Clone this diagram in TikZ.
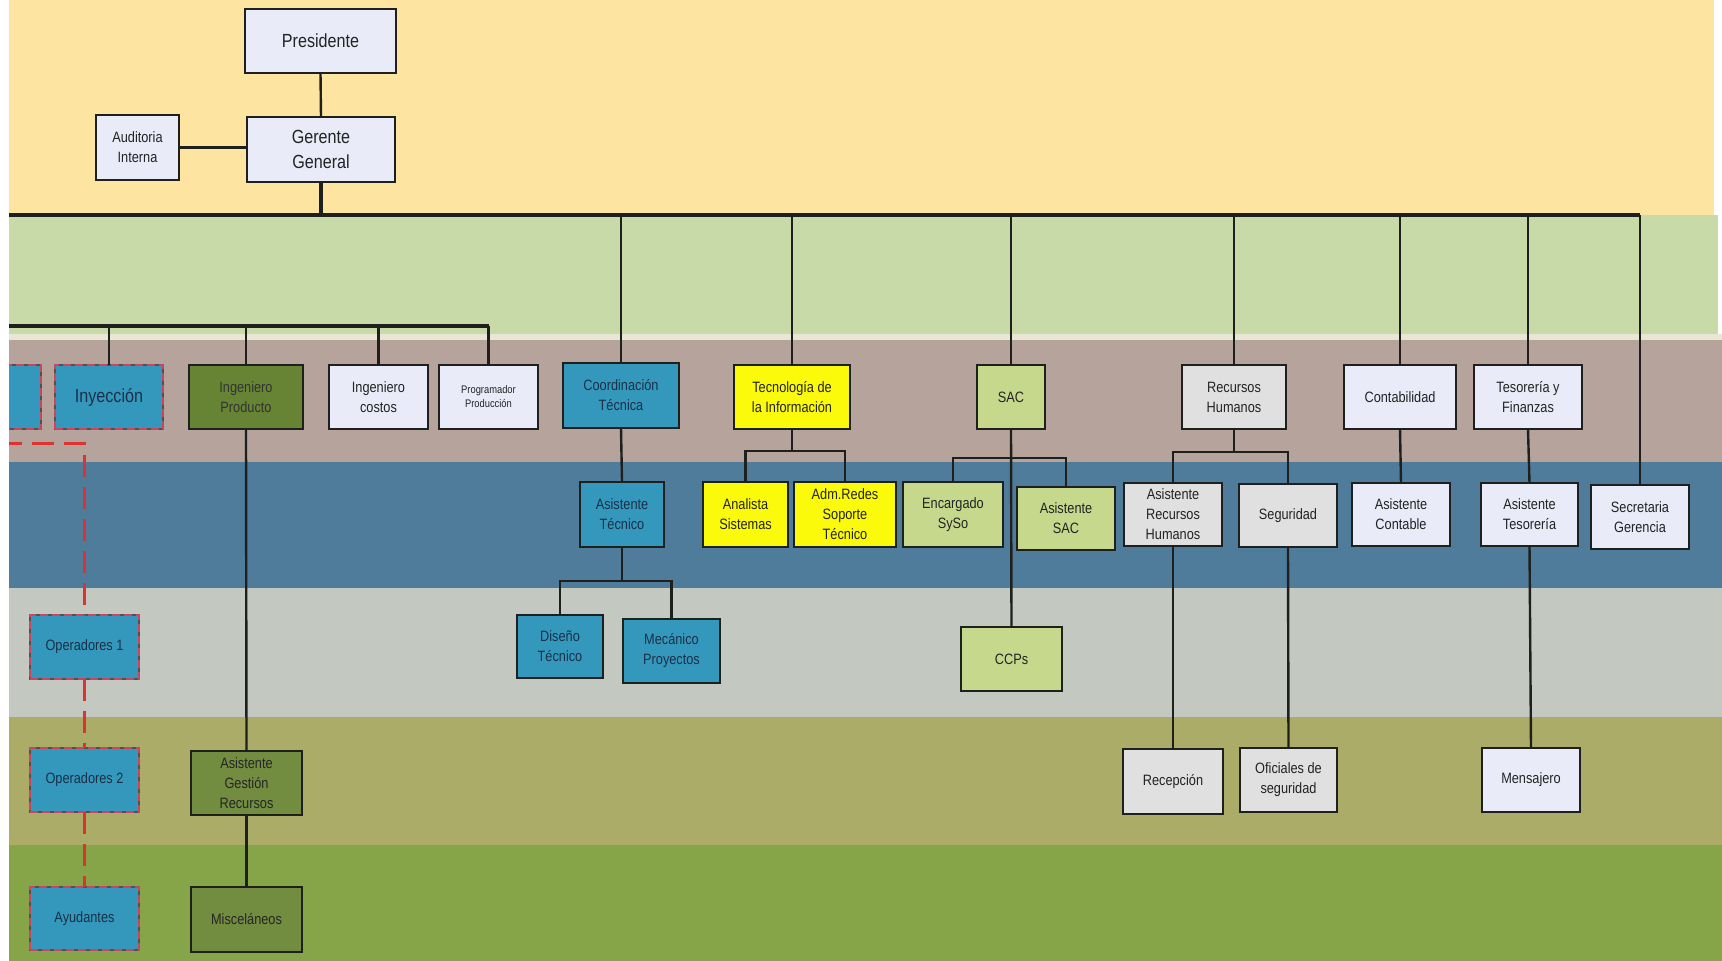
\documentclass[tikz,border=0pt]{standalone}
\usepackage{fontspec}
\setmainfont{Liberation Sans}[FakeStretch=0.85]
\definecolor{byel}{RGB}{253,228,160}
\definecolor{bgrn}{RGB}{200,218,168}
\definecolor{bstr}{RGB}{232,230,212}
\definecolor{bmau}{RGB}{182,163,156}
\definecolor{bblu}{RGB}{80,124,156}
\definecolor{bgry}{RGB}{195,200,192}
\definecolor{boli}{RGB}{170,172,104}
\definecolor{bgrnd}{RGB}{134,165,72}
\definecolor{cwhite}{RGB}{233,236,248}
\definecolor{cteal}{RGB}{52,152,188}
\definecolor{colvd}{RGB}{102,132,52}
\definecolor{colv}{RGB}{114,140,64}
\definecolor{cyel}{RGB}{250,250,10}
\definecolor{cgrn}{RGB}{198,216,140}
\definecolor{cgry}{RGB}{224,224,224}
\definecolor{bline}{RGB}{30,32,30}
\definecolor{tx}{RGB}{35,35,35}
\definecolor{txb}{RGB}{25,48,72}
\definecolor{dred}{RGB}{200,70,95}
\definecolor{dgray}{RGB}{80,80,85}
\definecolor{rd}{RGB}{220,50,50}
\newcommand{\bfs}{\fontsize{15}{20}\selectfont}
\newcommand{\bigfs}{\fontsize{19}{25}\selectfont}
\newcommand{\tinyfs}{\fontsize{11}{14}\selectfont}
\begin{document}
\begin{tikzpicture}[x=1pt,y=-1pt,
  box/.style={draw=bline, line width=2.2pt, inner sep=1pt, outer sep=0pt, align=center, font=\bfs, text=tx},
  wh/.style 2 args={minimum width=#1pt, minimum height=#2pt},
  wbox/.style={box, fill=cwhite},
  tbox/.style={box, fill=cteal, text=txb},
  obox/.style={box, fill=colv, text=black!85},
  ybox/.style={box, fill=cyel},
  gbox/.style={box, fill=cgrn},
  rbox/.style={box, fill=cgry},
  dbox/.style={box, draw=dred, dash pattern=on 8pt off 4pt, text=txb,
     preaction={fill=cteal, draw=dgray, solid, line width=2.2pt}},
  conn/.style={draw=bline, line width=2.4pt},
  trunk/.style={draw=bline, line width=4pt},
  rdash/.style={draw=rd, line width=3pt, dash pattern=on 22pt off 10pt}]
\useasboundingbox (0,0) rectangle (1722,961);
\fill[white] (0,0) rectangle (1722,961);
% bands
\fill[byel] (9,0) rectangle (1714,215);
\fill[bgrn] (9,215) rectangle (1718,334);
\fill[bstr] (9,334) rectangle (1722,340);
\fill[bmau] (9,340) rectangle (1722,462);
\fill[bblu] (9,462) rectangle (1722,588);
\fill[bgry] (9,588) rectangle (1722,717);
\fill[boli] (9,717) rectangle (1722,845);
\fill[bgrnd] (9,845) rectangle (1722,961);
% top
\node[wbox, wh={151}{64}, font=\bigfs] (pres) at (320.5,41) {Presidente};
\node[wbox, wh={148}{65}, font=\bigfs] (ger) at (321,149.5) {Gerente\\General};
\node[wbox, wh={83}{65}] (aud) at (137.5,147.5) {Auditoria\\Interna};
% row 1
\node[dbox, wh={51}{64}] (lpart) at (15.5,397) {};
\node[dbox, wh={108}{64}, font=\bigfs] (iny) at (109,397) {Inyección};
\node[box, fill=colvd, text=black!80, wh={114}{64}] (ip) at (246,397) {Ingeniero\\Producto};
\node[wbox, wh={99}{64}] (ic) at (378.5,397) {Ingeniero\\costos};
\node[wbox, wh={99}{64}, font=\tinyfs] (pp) at (488.5,397) {Programador\\Producción};
\node[tbox, wh={116}{65}] (ct) at (621,395.5) {Coordinación\\Técnica};
\node[ybox, wh={116}{64}] (ti) at (792,397) {Tecnología de\\la Información};
\node[gbox, wh={68}{64}] (sac) at (1011,397) {SAC};
\node[rbox, wh={104}{64}] (rh) at (1234,397) {Recursos\\Humanos};
\node[wbox, wh={112}{64}] (cont) at (1400,397) {Contabilidad};
\node[wbox, wh={108}{64}] (tes) at (1528,397) {Tesorería y\\Finanzas};
% row 2
\node[tbox, wh={84}{65}] (at) at (622,514.5) {Asistente\\Técnico};
\node[ybox, wh={85}{65}] (an) at (745.5,514.5) {Analista\\Sistemas};
\node[ybox, wh={102}{65}] (ar) at (845,514.5) {Adm.Redes\\Soporte\\Técnico};
\node[gbox, wh={100}{65}] (enc) at (953,514.5) {Encargado\\SySo};
\node[gbox, wh={98}{63}] (asac) at (1066,518.5) {Asistente\\SAC};
\node[rbox, wh={98}{63}] (arh) at (1173,514.5) {Asistente\\Recursos\\Humanos};
\node[rbox, wh={98}{63}] (seg) at (1288,515.5) {Seguridad};
\node[wbox, wh={98}{63}] (acont) at (1401,514.5) {Asistente\\Contable};
\node[wbox, wh={97}{63}] (ates) at (1529.5,514.5) {Asistente\\Tesorería};
\node[wbox, wh={98}{64}] (sec) at (1640,517) {Secretaria\\Gerencia};
% row 3
\node[tbox, wh={86}{63}] (dt) at (560,646.5) {Diseño\\Técnico};
\node[tbox, wh={97}{64}] (mp) at (671.5,651) {Mecánico\\Proyectos};
\node[gbox, wh={101}{64}] (ccp) at (1011.5,659) {CCPs};
\node[dbox, wh={109}{64}] (op1) at (84.5,647) {Operadores 1};
% row 4
\node[dbox, wh={109}{64}] (op2) at (84.5,780) {Operadores 2};
\node[obox, wh={111}{64}] (agr) at (246.5,783) {Asistente\\Gestión\\Recursos};
\node[rbox, wh={100}{65}] (rec) at (1173,781.5) {Recepción};
\node[rbox, wh={97}{64}] (ofi) at (1288.5,780) {Oficiales de\\seguridad};
\node[wbox, wh={98}{64}] (mens) at (1531,780) {Mensajero};
% row 5
\node[dbox, wh={109}{63}] (aya) at (84.5,918.5) {Ayudantes};
\node[obox, wh={111}{65}] (misc) at (246.5,919.5) {Misceláneos};
% junction coordinates
\coordinate (tL) at (0,215);
\coordinate (tR) at (1640,215);
\coordinate (sL) at (0,326);
\coordinate (jTI) at (792,451);
\coordinate (jSAC) at (1011,458);
\coordinate (jRH) at (1234,452);
\coordinate (jAT) at (622,581);
\coordinate (rL) at (0,443);
% connectors
\draw[conn] (pres.south) -- (ger.north);
\draw[conn] (aud.east) -- (aud.east -| ger.west);
\draw[trunk] (ger.south) -- (ger.south |- tL);
\draw[trunk] (tL) -- (tR);
\draw[conn] (ct.north |- tL) -- (ct.north);
\draw[conn] (ti.north |- tL) -- (ti.north);
\draw[conn] (sac.north |- tL) -- (sac.north);
\draw[conn] (rh.north |- tL) -- (rh.north);
\draw[conn] (cont.north |- tL) -- (cont.north);
\draw[conn] (tes.north |- tL) -- (tes.north);
\draw[conn] (tR) -- (sec.north);
\draw[trunk] (sL) -- (pp.north |- sL);
\draw[conn] (iny.north |- sL) -- (iny.north);
\draw[conn] (ip.north |- sL) -- (ip.north);
\draw[conn] (ic.north |- sL) -- (ic.north);
\draw[conn] (pp.north |- sL) -- (pp.north);
\draw[conn] (ip.south) -- (agr.north);
\draw[conn] (agr.south) -- (misc.north);
\draw[conn] (ct.south) -- (at.north);
\draw[conn] (at.south) -- (jAT);
\draw[conn] (dt.north) |- (jAT) -| (mp.north);
\draw[conn] (ti.south) -- (jTI);
\draw[conn] (an.north) |- (jTI) -| (ar.north);
\draw[conn] (sac.south) -- (ccp.north);
\draw[conn] (enc.north) |- (jSAC) -| (asac.north);
\draw[conn] (rh.south) -- (jRH);
\draw[conn] (arh.north) |- (jRH) -| (seg.north);
\draw[conn] (arh.south) -- (rec.north);
\draw[conn] (seg.south) -- (ofi.north);
\draw[conn] (cont.south) -- (acont.north);
\draw[conn] (tes.south) -- (ates.north);
\draw[conn] (ates.south) -- (mens.north);
\draw[rdash] (rL) -| (op1.north);
\draw[rdash] (op1.south) -- (op2.north);
\draw[rdash] (op2.south) -- (aya.north);
% left white margin
\fill[white] (0,0) rectangle (9,961);
\end{tikzpicture}
\end{document}
